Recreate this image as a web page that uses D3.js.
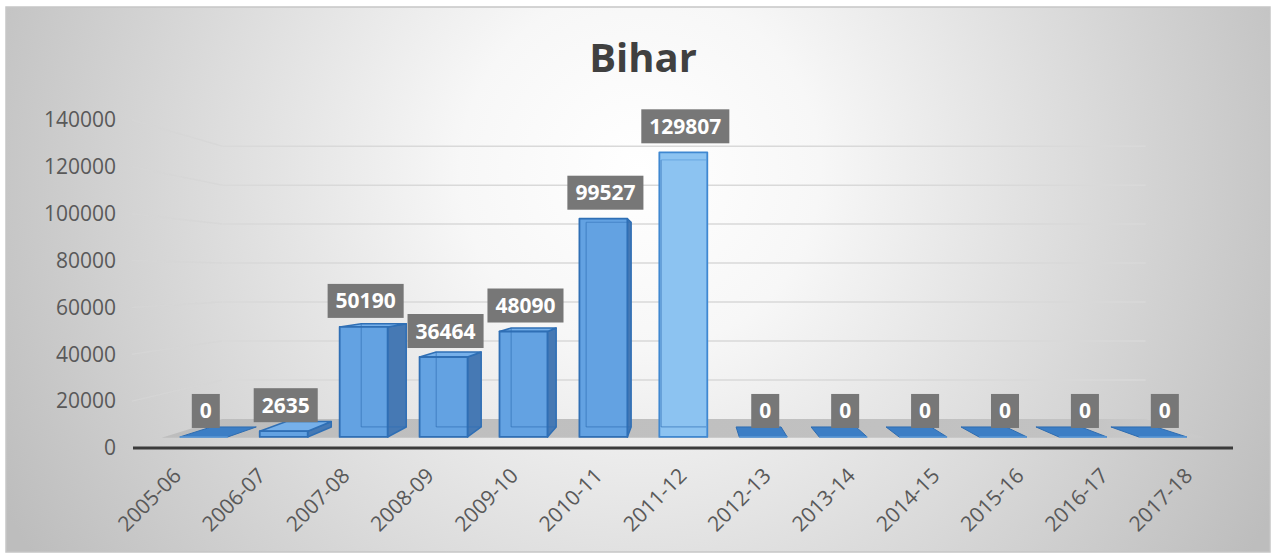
<!DOCTYPE html>
<html>
<head>
<meta charset="utf-8">
<script src="https://cdn.jsdelivr.net/npm/d3@7"></script>
<style>
  html, body { margin: 0; padding: 0; background: #ffffff; }
  svg { display: block; }
</style>
</head>
<body>
<svg id="chart" width="1275" height="555"></svg>
<script>
// ---- data ----
const title = "Bihar";
const categories = ["2005-06","2006-07","2007-08","2008-09","2009-10","2010-11","2011-12",
                    "2012-13","2013-14","2014-15","2015-16","2016-17","2017-18"];
const values = [0, 2635, 50190, 36464, 48090, 99527, 129807, 0, 0, 0, 0, 0, 0];
const yTicks = [0, 20000, 40000, 60000, 80000, 100000, 120000, 140000];

// ---- layout / perspective ----
const W = 1275, H = 555;
const VX = 688, VY = 275.6;          // vanishing point
const S_AXIS = 1.0, S_FLOOR = 0.94, S_BF = 0.936, S_BB = 0.878, S_WALL = 0.832;
const P = (xf, yf, s) => [VX + (xf - VX) * s, VY + (yf - VY) * s];

const svg = d3.select("#chart");
const defs = svg.append("defs");
const bg = defs.append("radialGradient").attr("id", "bg")
  .attr("gradientUnits", "userSpaceOnUse")
  .attr("cx", 640).attr("cy", 170).attr("r", 720);
bg.append("stop").attr("offset", "0").attr("stop-color", "#ffffff");
bg.append("stop").attr("offset", "0.25").attr("stop-color", "#f7f7f7");
bg.append("stop").attr("offset", "1").attr("stop-color", "#bdbdbd");

const wallGrad = defs.append("linearGradient").attr("id", "wallgrid")
  .attr("x1", "0").attr("x2", "1").attr("y1", "0").attr("y2", "0");
wallGrad.append("stop").attr("offset", "0").attr("stop-color", "#d4d4d4").attr("stop-opacity", 0.2);
wallGrad.append("stop").attr("offset", "1").attr("stop-color", "#d4d4d4").attr("stop-opacity", 1);

const floorGrad = defs.append("linearGradient").attr("id", "floorg")
  .attr("gradientUnits", "userSpaceOnUse")
  .attr("x1", 130).attr("x2", 1240).attr("y1", 0).attr("y2", 0);
floorGrad.append("stop").attr("offset", "0").attr("stop-color", "#bdbdbd");
floorGrad.append("stop").attr("offset", "0.85").attr("stop-color", "#c2c2c2");
floorGrad.append("stop").attr("offset", "1").attr("stop-color", "#cdcdcd").attr("stop-opacity", 0.4);

// chart area
svg.append("rect").attr("x", 6).attr("y", 7).attr("width", 1264).attr("height", 545)
  .attr("fill", "url(#bg)").attr("stroke", "#c6c6c6").attr("stroke-width", 1.5);

// scales
const x = d3.scaleBand().domain(categories).range([128, 1238])
  .paddingInner(0.4).paddingOuter(0.2);
const y = d3.scaleLinear().domain([0, 140000]).range([448, 120]);
const bw = x.bandwidth();
const X0 = 128, X1 = 1238;

// title
svg.append("text").attr("x", 643).attr("y", 72).attr("text-anchor", "middle")
  .attr("font-family", "'Open Sans', sans-serif").attr("font-weight", 700)
  .attr("font-size", 40).attr("fill", "#404040").text(title);

// gridlines: left wall + back wall
const gridG = svg.append("g");
yTicks.filter(t => t > 0).forEach(t => {
  const a = P(X0 + 4, y(t), S_AXIS), b = P(X0, y(t), S_WALL), c = P(X1, y(t), S_WALL);
  gridG.append("line").attr("x1", a[0]).attr("y1", a[1]).attr("x2", b[0]).attr("y2", b[1])
    .attr("stroke", "#d6d6d6").attr("stroke-width", 1.5).attr("stroke-opacity", 0.75);
  gridG.append("line").attr("x1", b[0]).attr("y1", b[1]).attr("x2", c[0]).attr("y2", c[1])
    .attr("stroke", "#d9d9d9").attr("stroke-width", 1.5);
});

// floor
const fl = [P(X0, y(0), S_FLOOR), P(X1, y(0), S_FLOOR), P(X1, y(0), S_WALL), P(X0, y(0), S_WALL)];
svg.append("polygon").attr("points", fl.map(p => p.join(",")).join(" "))
  .attr("fill", "url(#floorg)");

// y axis
const yAxis = d3.axisLeft(y).tickValues(yTicks).tickSize(0).tickPadding(0)
  .tickFormat(d => String(d));
const yg = svg.append("g").attr("transform", "translate(116,0)").call(yAxis);
yg.select(".domain").remove();
yg.selectAll("text").attr("font-family", "'Open Sans', sans-serif")
  .attr("font-size", 21).attr("fill", "#595959");

// bars
const maxV = d3.max(values);
const poly = (g, pts, fill, stroke, sw) => g.append("polygon")
  .attr("points", pts.map(p => p.join(",")).join(" "))
  .attr("fill", fill).attr("stroke", stroke).attr("stroke-width", sw).attr("stroke-linejoin", "round");
const line = (g, a, b, stroke, sw, op) => g.append("line")
  .attr("x1", a[0]).attr("y1", a[1]).attr("x2", b[0]).attr("y2", b[1])
  .attr("stroke", stroke).attr("stroke-width", sw).attr("stroke-opacity", op);

const barG = svg.append("g");
const labelInfo = [];
categories.forEach((c, i) => {
  const v = values[i];
  const x0 = x(c), x1 = x0 + bw, yv = y(v), yb = y(0);
  const hi = v === maxV;
  const cFront = hi ? "#8cc3f1" : "#63a2e2";
  const cSide = "#4679b4";
  const cTop = hi ? "#9fcdf5" : "#76b0ea";
  const cStroke = hi ? "#3f88d1" : "#2f6fb5";
  const g = barG.append("g");
  const fTL = P(x0, yv, S_BF), fTR = P(x1, yv, S_BF), fBR = P(x1, yb, S_BF), fBL = P(x0, yb, S_BF);
  const bTL = P(x0, yv, S_BB), bTR = P(x1, yv, S_BB), bBR = P(x1, yb, S_BB), bBL = P(x0, yb, S_BB);
  if (v === 0) {
    poly(g, [fBL, fBR, bBR, bBL], "#3c7ec5", "#2e6cb0", 1);
    line(g, fBL, fBR, "#5b9ad8", 1.5, 1);
  } else {
    // side face
    if (x1 < VX) poly(g, [fTR, bTR, bBR, fBR], cSide, cStroke, 1.5);
    else if (x0 > VX) poly(g, [fTL, bTL, bBL, fBL], cSide, cStroke, 1.5);
    // top face
    if (yv > VY) poly(g, [fTL, fTR, bTR, bTL], cTop, cStroke, 1.5);
    // front face
    poly(g, [fTL, fTR, fBR, fBL], cFront, cStroke, 1.8);
    // back edges seen through the translucent bar
    if (v > 5000) {
      line(g, bTL, bBL, "#2f6fb5", 1.2, 0.55);
      line(g, bBL, bBR, "#2f6fb5", 1.2, 0.55);
      if (yv <= VY) line(g, bTL, bTR, hi ? "#5a9ad8" : "#2f6fb5", 1.2, 0.55);
    }
  }
  labelInfo.push({ text: String(v), cx: (fTL[0] + fTR[0]) / 2 + 2, bottom: Math.min(fTL[1], fTR[1]) - 9 });
});

// axis line (front)
const aL = P(X0 + 5, y(0), S_AXIS), aR = P(X1 - 5, y(0), S_AXIS);
svg.append("line").attr("x1", aL[0]).attr("y1", aL[1]).attr("x2", aR[0]).attr("y2", aR[1])
  .attr("stroke", "#3b3b3b").attr("stroke-width", 3);

// x labels
const xl = svg.append("g");
categories.forEach(c => {
  const p = P(x(c) + bw / 2, y(0), 0.987);
  xl.append("text").attr("transform", `translate(${p[0] + 5},477) rotate(-45)`)
    .attr("text-anchor", "end").attr("font-family", "'Open Sans', sans-serif")
    .attr("font-size", 21).attr("fill", "#595959").text(c);
});

// data labels
const dl = svg.append("g");
labelInfo.forEach(d => {
  const g = dl.append("g");
  const r = g.append("rect").attr("fill", "#777777");
  const t = g.append("text").attr("text-anchor", "middle")
    .attr("font-family", "'Open Sans', sans-serif").attr("font-weight", 700)
    .attr("font-size", 21).attr("fill", "#ffffff").text(d.text);
  const tw = t.node().getComputedTextLength();
  const bwid = tw + 16, bh = 34;
  r.attr("x", d.cx - bwid / 2).attr("y", d.bottom - bh).attr("width", bwid).attr("height", bh);
  t.attr("x", d.cx).attr("y", d.bottom - bh / 2 + 7.5);
});
</script>
</body>
</html>
